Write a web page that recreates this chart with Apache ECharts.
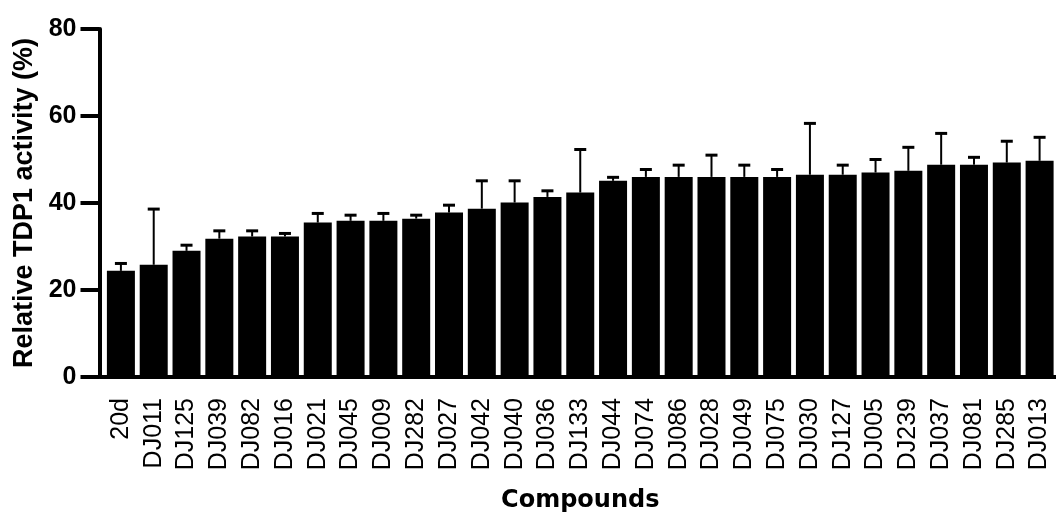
<!DOCTYPE html>
<html>
<head>
<meta charset="utf-8">
<script src="https://cdn.jsdelivr.net/npm/echarts@6/dist/echarts.min.js"></script>
<style>
html,body{margin:0;padding:0;background:#fff;}
#chart{width:1056px;height:518px;}
</style>
</head>
<body>
<div id="chart"></div>
<script>
const categories = ['20d','DJ011','DJ125','DJ039','DJ082','DJ016','DJ021','DJ045','DJ009','DJ282','DJ027','DJ042','DJ040','DJ036','DJ133','DJ044','DJ074','DJ086','DJ028','DJ049','DJ075','DJ030','DJ127','DJ005','DJ239','DJ037','DJ081','DJ285','DJ013'];
const meanValues = [24.4,25.8,29.0,31.8,32.3,32.3,35.5,35.9,35.9,36.4,37.8,38.7,40.1,41.4,42.4,45.1,46.0,46.0,46.0,46.0,46.0,46.5,46.5,47.0,47.4,48.8,48.8,49.3,49.7];
const errorValues = [1.7,12.8,1.3,1.8,1.3,0.7,2.1,1.3,1.7,0.8,1.7,6.4,5.0,1.4,9.9,0.8,1.7,2.7,5.0,2.7,1.7,11.8,2.2,3.0,5.4,7.2,1.7,4.9,5.4];
const yTicks = [0,20,40,60,80];

const errData = categories.map((c,i)=>[i, meanValues[i], errorValues[i]]);

const chart = echarts.init(document.getElementById('chart'));
chart.setOption({
  animation:false,
  backgroundColor:'#fff',
  grid:{left:104.5,right:-5.5,top:29,bottom:141},
  xAxis:{
    type:'category',
    data:categories,
    name:'Compounds',
    nameLocation:'middle',
    nameGap:112,
    nameTextStyle:{fontFamily:'DejaVu Sans',fontWeight:'bold',fontSize:24,color:'#000'},
    axisLine:{lineStyle:{color:'#000',width:4},symbol:['rect','none'],symbolSize:[4,10]},
    axisTick:{alignWithLabel:true,length:18,lineStyle:{color:'#000',width:4}},
    axisLabel:{rotate:90,margin:21,fontFamily:'Liberation Sans, Arial',fontSize:25,color:'#000'}
  },
  yAxis:{
    type:'value',
    min:yTicks[0],max:yTicks[yTicks.length-1],interval:20,
    offset:5,
    name:'Relative TDP1 activity (%)',
    nameLocation:'middle',
    nameGap:60,
    nameTextStyle:{fontFamily:'Liberation Sans, Arial',fontWeight:'bold',fontSize:27,color:'#000'},
    axisLine:{show:true,lineStyle:{color:'#000',width:4}},
    axisTick:{show:true,length:19,lineStyle:{color:'#000',width:4}},
    axisLabel:{margin:23,fontFamily:'Liberation Sans, Arial',fontWeight:'bold',fontSize:25,color:'#000'},
    splitLine:{show:false}
  },
  series:[
    {type:'bar',data:meanValues,barWidth:28,itemStyle:{color:'#000'},z:2},
    {type:'custom',data:errData,z:3,clip:false,
     renderItem:function(params,api){
       const x=api.value(0), m=api.value(1), e=api.value(2);
       const p0=api.coord([x,m]);
       const p1=api.coord([x,m+e]);
       return {type:'group',children:[
         {type:'line',shape:{x1:p0[0],y1:p0[1],x2:p1[0],y2:p1[1]},style:{stroke:'#000',lineWidth:2}},
         {type:'line',shape:{x1:p1[0]-6,y1:p1[1],x2:p1[0]+6,y2:p1[1]},style:{stroke:'#000',lineWidth:3}}
       ]};
     }}
  ]
});
</script>
</body>
</html>
